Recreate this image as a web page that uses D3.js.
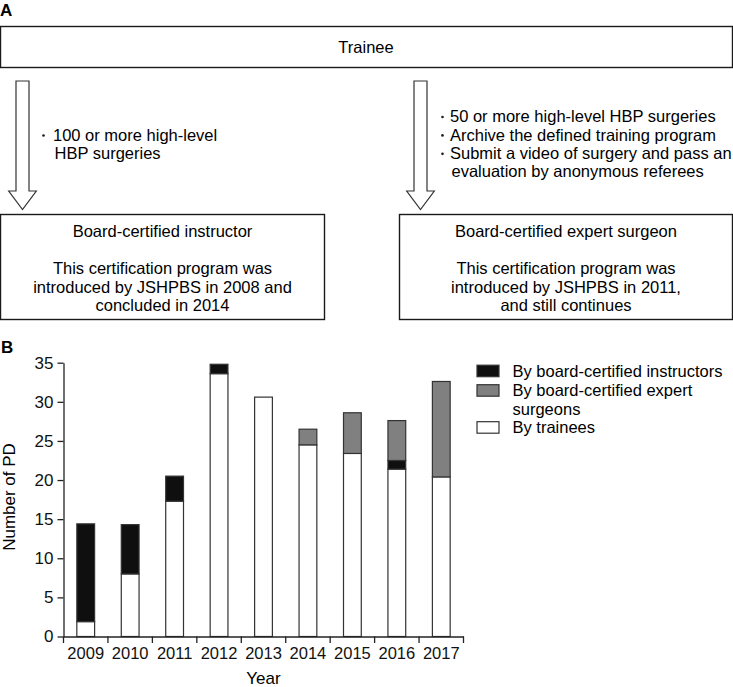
<!DOCTYPE html>
<html>
<head>
<meta charset="utf-8">
<script src="https://cdn.jsdelivr.net/npm/d3@7"></script>
<style>
  html, body { margin: 0; padding: 0; background: #fff; }
  svg { display: block; font-family: "Liberation Sans", Arial, Helvetica, sans-serif; }
</style>
</head>
<body>
<svg id="chart" width="733" height="687"></svg>
<script>
// ---- Data (chart B) ----
const years = ["2009", "2010", "2011", "2012", "2013", "2014", "2015", "2016", "2017"];
const byTrainees    = [1.9, 8.0, 17.3, 33.6, 30.6, 24.5, 23.4, 21.4, 20.4];
const byInstructors = [12.5, 6.3, 3.2, 1.2, 0, 0, 0, 1.1, 0];
const byExperts     = [0, 0, 0, 0, 0, 2.0, 5.2, 5.1, 12.2];
const yTicks = [0, 5, 10, 15, 20, 25, 30, 35];
const legendLabels = [
  ["By board-certified instructors"],
  ["By board-certified expert", "surgeons"],
  ["By trainees"]
];

// ---- Text (diagram A) ----
const topBoxText = "Trainee";
const leftCriteria = [["100 or more high-level", "HBP surgeries"]];
const rightCriteria = [
  ["50 or more high-level HBP surgeries"],
  ["Archive the defined training program"],
  ["Submit a video of surgery and pass an", "evaluation by anonymous referees"]
];
const leftBoxTitle = "Board-certified instructor";
const leftBoxBody = ["This certification program was", "introduced by JSHPBS in 2008 and", "concluded in 2014"];
const rightBoxTitle = "Board-certified expert surgeon";
const rightBoxBody = ["This certification program was", "introduced by JSHPBS in 2011,", "and still continues"];

const svg = d3.select("#chart");
const FS = 16.5;
const lineH = 18.4;

// ---------- Panel A ----------
svg.append("text").attr("x", 0).attr("y", 15.5).attr("font-size", 17).attr("font-weight", "bold").text("A");

function box(x0, y0, x1, y1) {
  svg.append("rect").attr("x", x0 + 0.5).attr("y", y0 + 0.5).attr("width", x1 - x0 - 1).attr("height", y1 - y0 - 1)
    .attr("fill", "#fff").attr("stroke", "#1a1a1a").attr("stroke-width", 1.4);
}
box(0, 26, 733, 68);
svg.append("text").attr("x", 366).attr("y", 47).attr("dy", "0.35em").attr("text-anchor", "middle")
  .attr("font-size", FS).text(topBoxText);

function arrow(cx) {
  const top = 81, headBase = 191, tip = 209.5, sw = 6.5, hw = 13.8;
  const pts = [[cx - sw, top], [cx + sw, top], [cx + sw, headBase], [cx + hw, headBase],
               [cx, tip], [cx - hw, headBase], [cx - sw, headBase]];
  svg.append("path").attr("d", "M" + pts.map(p => p.join(",")).join("L") + "Z")
    .attr("fill", "#fff").attr("stroke", "#333").attr("stroke-width", 1.2);
}
arrow(22.5);
arrow(420.5);

function bullets(list, bx, tx, y0) {
  let y = y0;
  list.forEach(item => {
    svg.append("circle").attr("cx", bx).attr("cy", y + 0.5).attr("r", 1.35).attr("fill", "#222");
    item.forEach((line, i) => {
      svg.append("text").attr("x", tx + (i > 0 ? 1.5 : 0)).attr("y", y).attr("dy", "0.35em")
        .attr("font-size", FS).text(line);
      y += lineH;
    });
  });
}
bullets(leftCriteria, 43.5, 53, 135);
bullets(rightCriteria, 442.5, 450, 116.5);

box(0, 214, 325, 320);
box(399, 214, 733, 320);
function boxText(cx, title, body) {
  svg.append("text").attr("x", cx).attr("y", 231).attr("dy", "0.35em").attr("text-anchor", "middle")
    .attr("font-size", FS).text(title);
  body.forEach((line, i) => {
    svg.append("text").attr("x", cx).attr("y", 268.5 + i * lineH).attr("dy", "0.35em").attr("text-anchor", "middle")
      .attr("font-size", FS).text(line);
  });
}
boxText(162.5, leftBoxTitle, leftBoxBody);
boxText(566, rightBoxTitle, rightBoxBody);

// ---------- Panel B ----------
svg.append("text").attr("x", 1).attr("y", 353).attr("font-size", 17).attr("font-weight", "bold").text("B");

const x = d3.scaleBand().domain(years).range([63.5, 463.5]).padding(0);
const y = d3.scaleLinear().domain([0, 35]).range([636.5, 362.7]);

const table = years.map((yr, i) => ({
  year: yr, trainees: byTrainees[i], instructors: byInstructors[i], experts: byExperts[i]
}));
const stack = d3.stack().keys(["trainees", "instructors", "experts"]);
const stacked = stack(table);
const colors = { trainees: "#ffffff", instructors: "#0f0f0f", experts: "#808080" };

const barW = x.bandwidth() * 0.4;
const gBars = svg.append("g");
stacked.forEach(s => {
  gBars.selectAll(null).data(s.filter(d => d[1] - d[0] > 0)).enter().append("rect")
    .attr("x", d => x(d.data.year) + (x.bandwidth() - barW) / 2)
    .attr("y", d => y(d[1]))
    .attr("width", barW)
    .attr("height", d => y(d[0]) - y(d[1]))
    .attr("fill", colors[s.key])
    .attr("stroke", "#333")
    .attr("stroke-width", 1.2);
});

// Y axis
const yAxis = svg.append("g").attr("transform", "translate(63.5,0)")
  .call(d3.axisLeft(y).tickValues(yTicks).tickSize(6).tickPadding(4).tickSizeOuter(0));
yAxis.select(".domain").attr("stroke", "#222").attr("stroke-width", 1.3);
yAxis.selectAll(".tick line").attr("stroke", "#222").attr("stroke-width", 1.3);
yAxis.selectAll(".tick text").attr("font-size", 17).attr("fill", "#111")
  .attr("font-family", "Liberation Sans, Arial, sans-serif");

// X axis (labels at band centers, ticks at band edges)
const xAxis = svg.append("g").attr("transform", "translate(0,636.5)")
  .call(d3.axisBottom(x).tickSize(0).tickPadding(11).tickSizeOuter(0));
xAxis.select(".domain").attr("stroke", "#222").attr("stroke-width", 1.3);
xAxis.selectAll(".tick text").attr("font-size", FS).attr("fill", "#111")
  .attr("font-family", "Liberation Sans, Arial, sans-serif");
const edges = years.map(d => x(d)).concat([x.range()[1]]);
xAxis.selectAll(".edge").data(edges).enter().append("line")
  .attr("x1", d => d).attr("x2", d => d).attr("y1", 0).attr("y2", 6.5)
  .attr("stroke", "#222").attr("stroke-width", 1.3);

svg.append("text").attr("x", 263.5).attr("y", 678.5).attr("dy", "0.35em").attr("text-anchor", "middle")
  .attr("font-size", 17).text("Year");
svg.append("text").attr("transform", "translate(9,497) rotate(-90)").attr("dy", "0.35em")
  .attr("text-anchor", "middle").attr("font-size", 17).text("Number of PD");

// Legend
const legendRows = [
  { key: "instructors", lines: legendLabels[0], y: 371 },
  { key: "experts", lines: legendLabels[1], y: 390.5 },
  { key: "trainees", lines: legendLabels[2], y: 427.5 }
];
legendRows.forEach(r => {
  svg.append("rect").attr("x", 477).attr("y", r.y - 5.8).attr("width", 22).attr("height", 11.5)
    .attr("fill", colors[r.key]).attr("stroke", "#333").attr("stroke-width", 1.2);
  r.lines.forEach((l, i) => {
    svg.append("text").attr("x", 512.5).attr("y", r.y + i * 18.5).attr("dy", "0.35em")
      .attr("font-size", FS).text(l);
  });
});
</script>
</body>
</html>
